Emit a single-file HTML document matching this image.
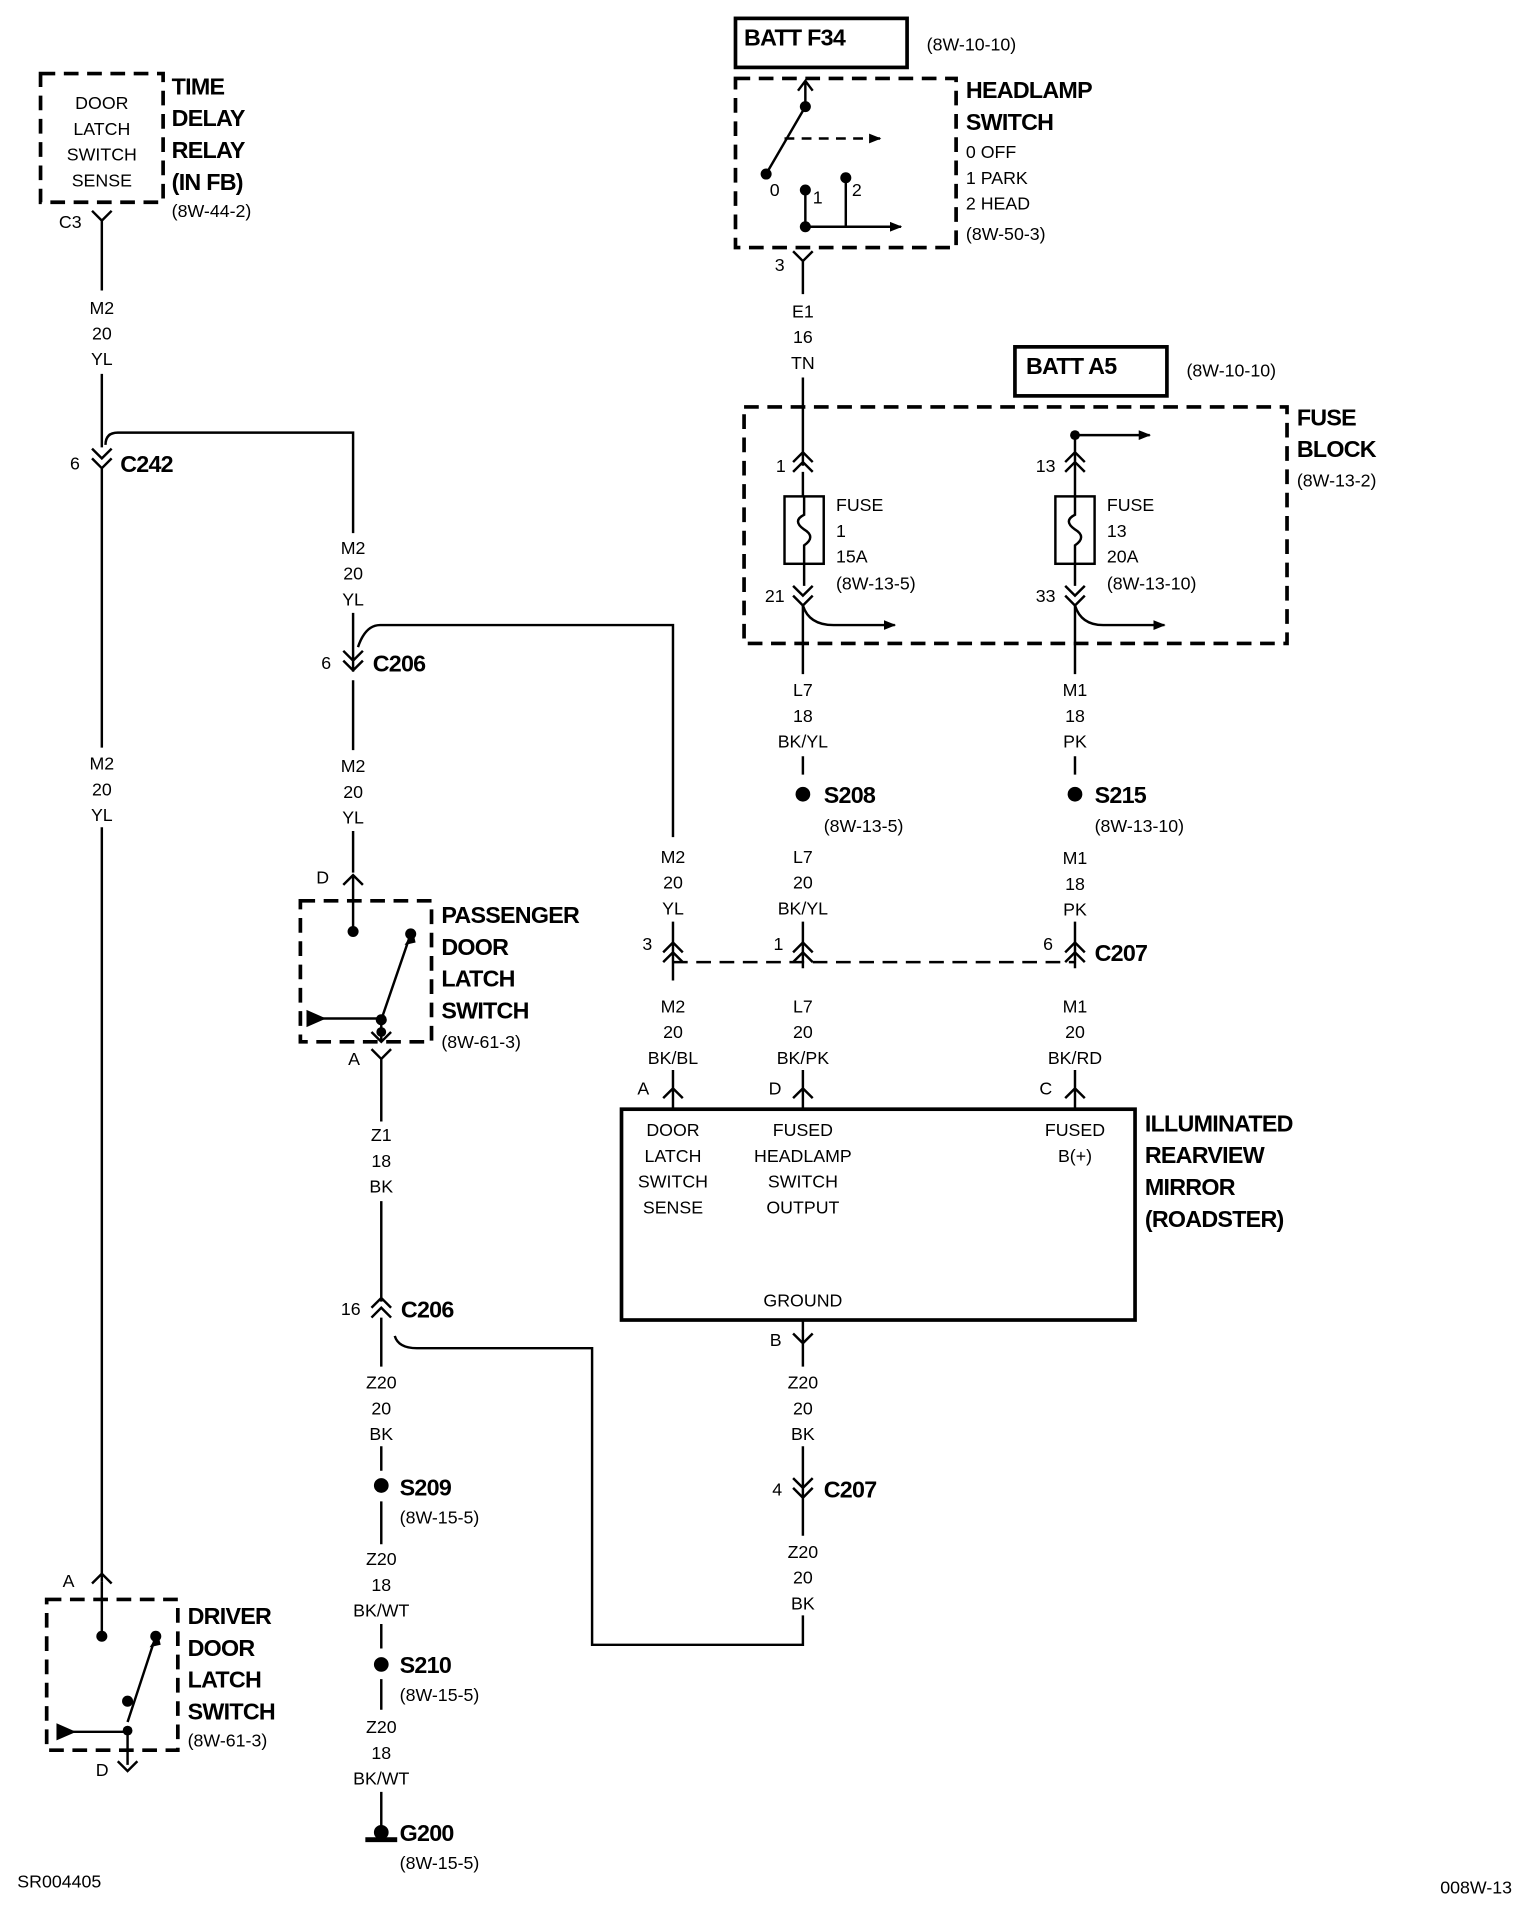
<!DOCTYPE html>
<html><head><meta charset="utf-8"><style>
html,body{margin:0;padding:0;background:#fff;}
svg{display:block}
text{font-family:"Liberation Sans",sans-serif;fill:#000;}
.s{font-size:14.5px;text-anchor:middle}
.l{font-size:14.5px}
.b{font-size:19px;font-weight:bold;letter-spacing:-0.6px}
</style></head><body>
<svg width="1520" height="1912" viewBox="0 0 1240 1560" xmlns="http://www.w3.org/2000/svg">
<defs>
<marker id="ar" markerWidth="10" markerHeight="10" refX="9" refY="5" orient="auto" markerUnits="userSpaceOnUse"><path d="M0,1 L10,5 L0,9z" fill="#000"/></marker>
</defs>
<g stroke="#000" stroke-width="2" fill="none">
<rect x="33" y="60" width="100" height="105" stroke-dasharray="12,7" stroke-width="3"/>
<path d="M75,172 L83,180 L91,172 M83,180 V237 M83,305 V365 M75,366 L83,374 L91,366 M75,374 L83,382 L91,374 M83,382 V610 M83,675 V1290"/>
<path d="M86,363 Q86,353 96,353 H288 V435"/>
<path d="M288,500 V548 M280,531 L288,539 L296,531 M280,539 L288,547 L296,539"/>
<path d="M292,528 Q298,510 310,510 H549 V683"/>
<path d="M288,555 V612 M288,678 V712 M280,722 L288,714 L296,722 M288,714 V735"/>
<rect x="245" y="735" width="107" height="115" stroke-dasharray="12,7" stroke-width="3"/>
<path d="M288,735 V760 M311,832 L335,762 M258,831 H311 V850 M303,842 L311,850 L319,842"/>
<path d="M303,856 L311,864 L319,856 M311,864 V915 M311,980 V1062 M303,1067 L311,1059 L319,1067 M303,1075 L311,1067 L319,1075 M311,1075 V1115 M311,1180 V1200 M311,1225 V1260 M311,1325 V1345 M311,1370 V1395 M311,1462 V1490"/>
<path d="M322,1090 Q325,1100 340,1100 H483 V1342 H655 V1318"/>
<rect x="38" y="1305" width="107" height="123" stroke-dasharray="12,7" stroke-width="3"/>
<path d="M75,1292 L83,1284 L91,1292 M83,1290 V1335 M104,1405 L127,1335 M52,1413 H104 V1440 M96,1437 L104,1445 L112,1437"/>
<rect x="600" y="15" width="140" height="40" stroke-width="3"/>
<rect x="600" y="64" width="180" height="138" stroke-dasharray="12,7" stroke-width="3"/>
<path d="M657,87 L625,142 M657,87 V66 M651,74 L657,66 L663,74"/>
<path d="M640,113 H718" stroke-dasharray="8,6" marker-end="url(#ar)"/>
<path d="M657,155 V185 M690,145 V185 M657,185 H735" marker-end="url(#ar)"/>
<path d="M647,205 L655,213 L663,205 M655,213 V240 M655,308 V380 M647,377 L655,369 L663,377 M647,385 L655,377 L663,385 M655,385 V405"/>
<rect x="828" y="283" width="124" height="40" stroke-width="3"/>
<rect x="607" y="332" width="443" height="193" stroke-dasharray="12,7" stroke-width="3"/>
<path d="M877,355 H938" marker-end="url(#ar)"/>
<path d="M877,355 V385 M869,377 L877,369 L885,377 M869,385 L877,377 L885,385 M877,385 V405"/>
<rect x="640" y="405" width="32" height="55"/>
<rect x="861" y="405" width="32" height="55"/>
<path d="M656,405 V420 Q646,425 656,432 Q666,438 656,445 V478 M877,405 V420 Q867,425 877,432 Q887,438 877,445 V478"/>
<path d="M647,478 L655,486 L663,478 M647,486 L655,494 L663,486 M869,478 L877,486 L885,478 M869,486 L877,494 L885,486"/>
<path d="M655,494 Q660,510 680,510 H730" marker-end="url(#ar)"/>
<path d="M877,494 Q882,510 900,510 H950" marker-end="url(#ar)"/>
<path d="M655,494 V550 M877,494 V550 M655,617 V632 M877,617 V632 M655,752 V790 M877,752 V790"/>
<path d="M647,777 L655,769 L663,777 M647,785 L655,777 L663,785 M869,777 L877,769 L885,777 M869,785 L877,777 L885,785 M541,777 L549,769 L557,777 M541,785 L549,777 L557,785 M549,752 V800"/>
<path d="M549,785 H877" stroke-dasharray="12,7"/>
<path d="M549,873 V905 M655,873 V905 M877,873 V905 M541,896 L549,888 L557,896 M647,896 L655,888 L663,896 M869,896 L877,888 L885,896"/>
<rect x="507" y="905" width="419" height="172" stroke-width="3"/>
<path d="M655,1077 V1115 M647,1088 L655,1096 L663,1088 M655,1180 V1222 M647,1206 L655,1214 L663,1206 M647,1214 L655,1222 L663,1214 M655,1222 V1253"/>
</g>
<g fill="#000">
<circle cx="288" cy="760" r="4.5"/><circle cx="335" cy="762" r="4.5"/><circle cx="311" cy="832" r="4.5"/><circle cx="311" cy="842" r="4"/>
<path d="M250,824 L266,831 L250,838z"/>
<circle cx="83" cy="1335" r="4.5"/><circle cx="127" cy="1335" r="4.5"/><circle cx="104" cy="1388" r="4.5"/><circle cx="104" cy="1412" r="4"/>
<path d="M46,1406 L62,1413 L46,1420z"/>
<path d="M129,1333 L122,1344 L131,1342z"/><path d="M337,760 L330,771 L339,769z"/>
<circle cx="657" cy="87" r="4.5"/><circle cx="625" cy="142" r="4.5"/><circle cx="657" cy="155" r="4.5"/><circle cx="690" cy="145" r="4.5"/><circle cx="657" cy="185" r="4.5"/>
<circle cx="877" cy="355" r="4"/>
<circle cx="655" cy="648" r="6"/><circle cx="877" cy="648" r="6"/>
<circle cx="311" cy="1212" r="6"/><circle cx="311" cy="1358" r="6"/><circle cx="311" cy="1495" r="6"/>
<rect x="298" y="1499" width="26" height="4"/>
</g>
<text class="s" x="83" y="89">DOOR</text><text class="s" x="83" y="110">LATCH</text><text class="s" x="83" y="131">SWITCH</text><text class="s" x="83" y="152">SENSE</text>
<text class="b" x="140" y="77">TIME</text><text class="b" x="140" y="103">DELAY</text><text class="b" x="140" y="129">RELAY</text><text class="b" x="140" y="155">(IN FB)</text>
<text class="l" x="140" y="177">(8W-44-2)</text>
<text class="l" x="48" y="186">C3</text>
<text class="s" x="83" y="256">M2</text><text class="s" x="83" y="277">20</text><text class="s" x="83" y="298">YL</text>
<text class="l" x="57" y="383">6</text><text class="b" x="98" y="385">C242</text>
<text class="s" x="83" y="628">M2</text><text class="s" x="83" y="649">20</text><text class="s" x="83" y="670">YL</text>
<text class="s" x="288" y="452">M2</text><text class="s" x="288" y="473">20</text><text class="s" x="288" y="494">YL</text>
<text class="l" x="262" y="546">6</text><text class="b" x="304" y="548">C206</text>
<text class="s" x="288" y="630">M2</text><text class="s" x="288" y="651">20</text><text class="s" x="288" y="672">YL</text>
<text class="l" x="258" y="721">D</text>
<text class="b" x="360" y="753">PASSENGER</text><text class="b" x="360" y="779">DOOR</text><text class="b" x="360" y="805">LATCH</text><text class="b" x="360" y="831">SWITCH</text>
<text class="l" x="360" y="855">(8W-61-3)</text>
<text class="l" x="284" y="869">A</text>
<text class="s" x="311" y="931">Z1</text><text class="s" x="311" y="952">18</text><text class="s" x="311" y="973">BK</text>
<text class="l" x="278" y="1073">16</text><text class="b" x="327" y="1075">C206</text>
<text class="s" x="311" y="1133">Z20</text><text class="s" x="311" y="1154">20</text><text class="s" x="311" y="1175">BK</text>
<text class="b" x="326" y="1220">S209</text><text class="l" x="326" y="1243">(8W-15-5)</text>
<text class="s" x="311" y="1277">Z20</text><text class="s" x="311" y="1298">18</text><text class="s" x="311" y="1319">BK/WT</text>
<text class="b" x="326" y="1365">S210</text><text class="l" x="326" y="1388">(8W-15-5)</text>
<text class="s" x="311" y="1414">Z20</text><text class="s" x="311" y="1435">18</text><text class="s" x="311" y="1456">BK/WT</text>
<text class="b" x="326" y="1502">G200</text><text class="l" x="326" y="1525">(8W-15-5)</text>
<text class="l" x="51" y="1295">A</text>
<text class="b" x="153" y="1325">DRIVER</text><text class="b" x="153" y="1351">DOOR</text><text class="b" x="153" y="1377">LATCH</text><text class="b" x="153" y="1403">SWITCH</text>
<text class="l" x="153" y="1425">(8W-61-3)</text>
<text class="l" x="78" y="1449">D</text>
<text class="l" x="14" y="1540">SR004405</text><text class="l" x="1175" y="1545">008W-13</text>
<text class="b" x="607" y="37">BATT F34</text><text class="l" x="756" y="41">(8W-10-10)</text>
<text class="b" x="788" y="80">HEADLAMP</text><text class="b" x="788" y="106">SWITCH</text>
<text class="l" x="788" y="129">0 OFF</text><text class="l" x="788" y="150">1 PARK</text><text class="l" x="788" y="171">2 HEAD</text><text class="l" x="788" y="196">(8W-50-3)</text>
<text class="l" x="628" y="160">0</text><text class="l" x="663" y="166">1</text><text class="l" x="695" y="160">2</text>
<text class="l" x="632" y="221">3</text>
<text class="s" x="655" y="259">E1</text><text class="s" x="655" y="280">16</text><text class="s" x="655" y="301">TN</text>
<text class="b" x="837" y="305">BATT A5</text><text class="l" x="968" y="307">(8W-10-10)</text>
<text class="b" x="1058" y="347">FUSE</text><text class="b" x="1058" y="373">BLOCK</text><text class="l" x="1058" y="397">(8W-13-2)</text>
<text class="l" x="633" y="385">1</text><text class="l" x="845" y="385">13</text>
<text class="l" x="682" y="417">FUSE</text><text class="l" x="682" y="438">1</text><text class="l" x="682" y="459">15A</text><text class="l" x="682" y="481">(8W-13-5)</text>
<text class="l" x="903" y="417">FUSE</text><text class="l" x="903" y="438">13</text><text class="l" x="903" y="459">20A</text><text class="l" x="903" y="481">(8W-13-10)</text>
<text class="l" x="624" y="491">21</text><text class="l" x="845" y="491">33</text>
<text class="s" x="655" y="568">L7</text><text class="s" x="655" y="589">18</text><text class="s" x="655" y="610">BK/YL</text>
<text class="s" x="877" y="568">M1</text><text class="s" x="877" y="589">18</text><text class="s" x="877" y="610">PK</text>
<text class="b" x="672" y="655">S208</text><text class="l" x="672" y="679">(8W-13-5)</text>
<text class="b" x="893" y="655">S215</text><text class="l" x="893" y="679">(8W-13-10)</text>
<text class="s" x="655" y="704">L7</text><text class="s" x="655" y="725">20</text><text class="s" x="655" y="746">BK/YL</text>
<text class="s" x="877" y="705">M1</text><text class="s" x="877" y="726">18</text><text class="s" x="877" y="747">PK</text>
<text class="s" x="549" y="704">M2</text><text class="s" x="549" y="725">20</text><text class="s" x="549" y="746">YL</text>
<text class="l" x="524" y="775">3</text><text class="l" x="631" y="775">1</text><text class="l" x="851" y="775">6</text><text class="b" x="893" y="784">C207</text>
<text class="s" x="549" y="826">M2</text><text class="s" x="549" y="847">20</text><text class="s" x="549" y="868">BK/BL</text>
<text class="s" x="655" y="826">L7</text><text class="s" x="655" y="847">20</text><text class="s" x="655" y="868">BK/PK</text>
<text class="s" x="877" y="826">M1</text><text class="s" x="877" y="847">20</text><text class="s" x="877" y="868">BK/RD</text>
<text class="l" x="520" y="893">A</text><text class="l" x="627" y="893">D</text><text class="l" x="848" y="893">C</text>
<text class="s" x="549" y="927">DOOR</text><text class="s" x="549" y="948">LATCH</text><text class="s" x="549" y="969">SWITCH</text><text class="s" x="549" y="990">SENSE</text>
<text class="s" x="655" y="927">FUSED</text><text class="s" x="655" y="948">HEADLAMP</text><text class="s" x="655" y="969">SWITCH</text><text class="s" x="655" y="990">OUTPUT</text>
<text class="s" x="877" y="927">FUSED</text><text class="s" x="877" y="948">B(+)</text>
<text class="s" x="655" y="1066">GROUND</text>
<text class="b" x="934" y="923">ILLUMINATED</text><text class="b" x="934" y="949">REARVIEW</text><text class="b" x="934" y="975">MIRROR</text><text class="b" x="934" y="1001">(ROADSTER)</text>
<text class="l" x="628" y="1098">B</text>
<text class="s" x="655" y="1133">Z20</text><text class="s" x="655" y="1154">20</text><text class="s" x="655" y="1175">BK</text>
<text class="l" x="630" y="1220">4</text><text class="b" x="672" y="1222">C207</text>
<text class="s" x="655" y="1271">Z20</text><text class="s" x="655" y="1292">20</text><text class="s" x="655" y="1313">BK</text>
</svg>
</body></html>
